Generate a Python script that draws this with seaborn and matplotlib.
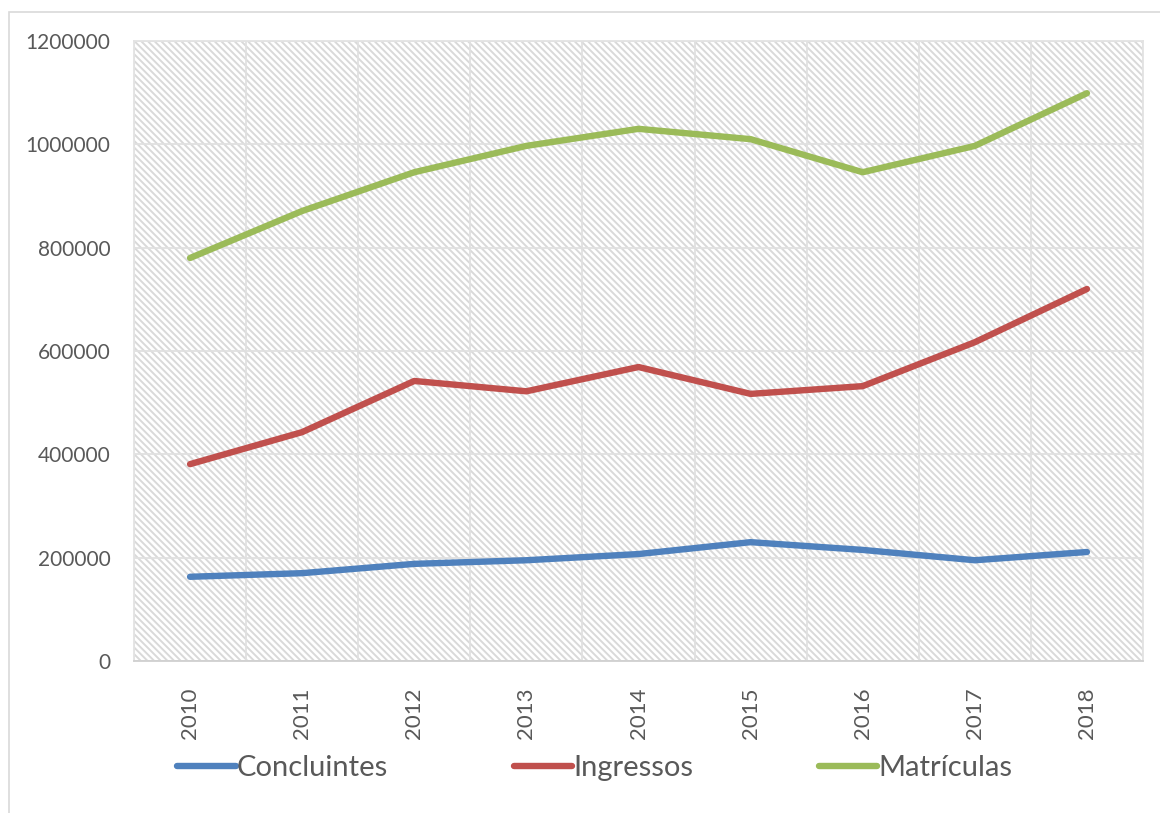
import matplotlib
matplotlib.use("Agg")
import matplotlib.pyplot as plt
from matplotlib.patches import Rectangle
import seaborn as sns
import pandas as pd
import numpy as np

years = ["2010", "2011", "2012", "2013", "2014", "2015", "2016", "2017", "2018"]
concluintes = [163000, 170000, 188000, 195000, 207000, 230000, 215000, 195000, 211000]
ingressos = [381000, 443000, 542000, 522000, 569000, 517000, 532000, 617000, 720000]
matriculas = [780000, 871000, 946000, 997000, 1030000, 1010000, 946000, 997000, 1099000]
series_names = ["Concluintes", "Ingressos", "Matrículas"]
colors = ["#4f81bd", "#c0504d", "#9bbb59"]
yticks = [0, 200000, 400000, 600000, 800000, 1000000, 1200000]

sns.set_theme(style="white")
plt.rcParams['font.family'] = ['Lato', 'DejaVu Sans']
plt.rcParams['hatch.linewidth'] = 1.4
plt.rcParams['hatch.color'] = '#d9d9d9'

rows = []
for name, vals in zip(series_names, [concluintes, ingressos, matriculas]):
    for i, (y, v) in enumerate(zip(years, vals)):
        rows.append({"idx": i, "Ano": y, "Valor": v, "Série": name})
df = pd.DataFrame(rows)

fig = plt.figure(figsize=(11.6, 8.13), dpi=100)
ax = fig.add_axes([134/1160, 1-661/813, (1143-134)/1160, (661-41)/813])

# outer chart frame
fig.patches.append(Rectangle((9/1160, -0.05), 1.2, 1 - 12/813 + 0.05, transform=fig.transFigure,
                             fill=False, edgecolor='#d9d9d9', linewidth=1.2))

# hatched plot area
ax.add_patch(Rectangle((0, 0), 1, 1, transform=ax.transAxes, facecolor='white',
                       edgecolor='#d9d9d9', hatch='\\' * 5, linewidth=0, zorder=0))

sns.lineplot(data=df, x="idx", y="Valor", hue="Série", palette=colors, linewidth=4.6,
             ax=ax, zorder=3, legend=False, solid_capstyle='round')

ax.set_xlim(-0.5, len(years) - 0.5)
ax.set_ylim(0, 1200000)
ax.set_xticks(range(len(years)))
ax.set_xticklabels(years, rotation=90, fontsize=16, color='#595959')
ax.set_xticks(np.arange(-0.5, len(years), 1), minor=True)
ax.set_yticks(yticks)
ax.set_yticklabels([str(t) for t in yticks], fontsize=15, color='#595959')
ax.tick_params(axis='both', which='both', length=0)
ax.tick_params(axis='x', pad=19)
ax.tick_params(axis='y', pad=17)
ax.grid(False)
ax.yaxis.grid(True, color='#e0e0e0', linewidth=1.3, zorder=1)
ax.xaxis.grid(True, which='minor', color='#e0e0e0', linewidth=1.3, zorder=1)
ax.set_axisbelow(True)
ax.set_xlabel("")
ax.set_ylabel("")
for s in ax.spines.values():
    s.set_color('#e3e3e3')
    s.set_linewidth(1.3)
ax.spines['bottom'].set_color('#d0d0d0')

handles = [plt.Line2D([], [], color=c, linewidth=4.6, solid_capstyle='round') for c in colors]
fig.legend(handles, series_names, loc='center', bbox_to_anchor=(595/1160, 1-768/813), ncol=3,
           frameon=False, fontsize=21, handlelength=2.0, handletextpad=0.05, columnspacing=4.3,
           labelcolor='#595959')

fig.savefig("out.png", dpi=100, facecolor='white')
